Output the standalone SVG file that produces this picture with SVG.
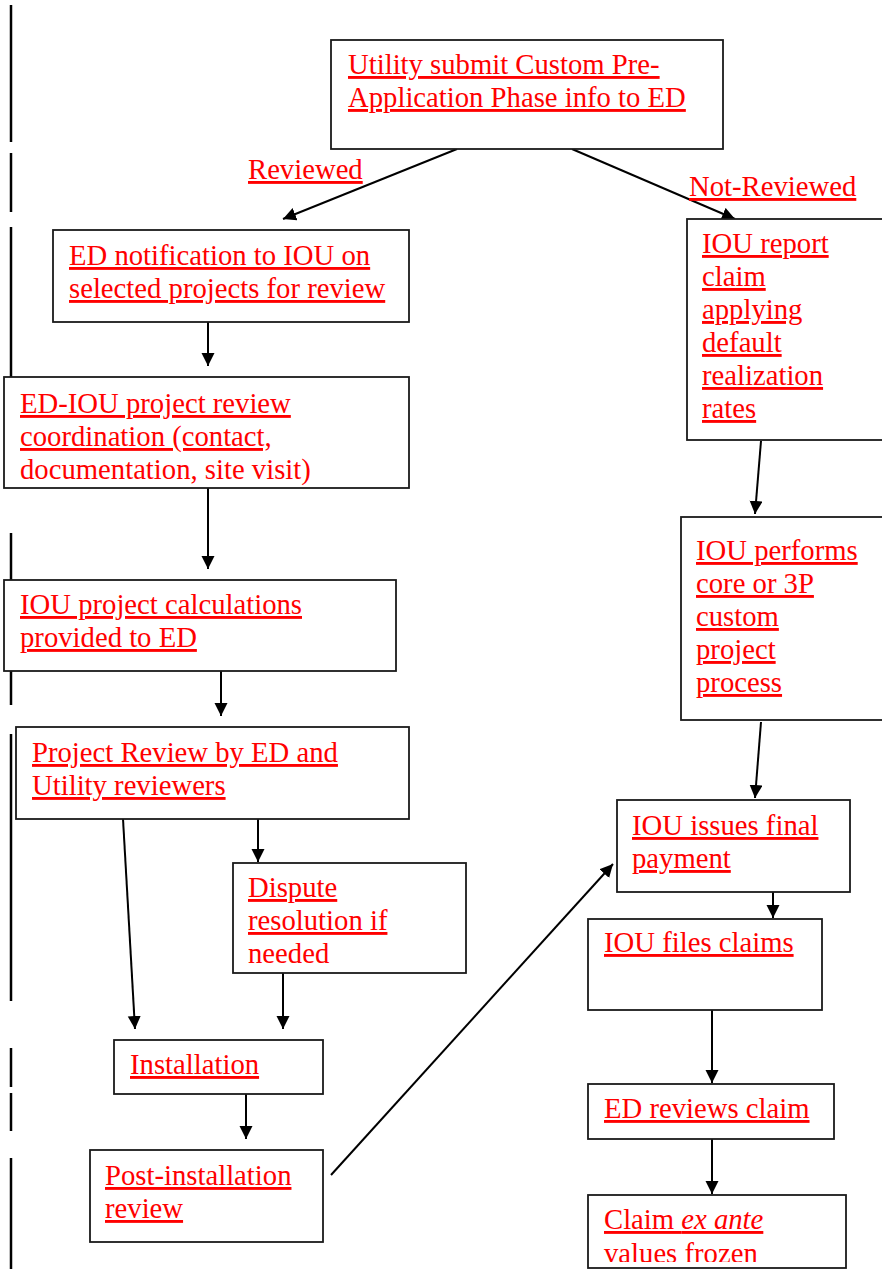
<svg xmlns="http://www.w3.org/2000/svg" width="882" height="1278" viewBox="0 0 882 1278">
<style>
.box{fill:#fff;stroke:#1a1a1a;stroke-width:1.8}
.t{font-family:"Liberation Serif","Times New Roman",serif;font-size:28.7px;fill:#ff0000}
.u{text-decoration:underline;text-decoration-thickness:2px}
.bar{stroke:#000;stroke-width:2.5}
.c{stroke:#000;stroke-width:2;fill:none;marker-end:url(#ah)}
</style>
<defs>
<marker id="ah" markerUnits="userSpaceOnUse" markerWidth="14" markerHeight="14" refX="13" refY="6.5" orient="auto">
<path d="M0,0 L13,6.5 L0,13 z" fill="#000"/>
</marker>
<clipPath id="clipClaim"><rect x="588" y="1195" width="258" height="67"/></clipPath>
</defs>
<rect width="882" height="1278" fill="#fff"/>

<g id="margin-bars">
<line class="bar" x1="11" y1="5" x2="11" y2="142"/>
<line class="bar" x1="11" y1="153" x2="11" y2="212"/>
<line class="bar" x1="11" y1="227" x2="11" y2="377"/>
<line class="bar" x1="11" y1="385" x2="11" y2="485"/>
<line class="bar" x1="11" y1="533" x2="11" y2="705"/>
<line class="bar" x1="11" y1="734" x2="11" y2="1001"/>
<line class="bar" x1="11" y1="1048" x2="11" y2="1087"/>
<line class="bar" x1="11" y1="1093" x2="11" y2="1131"/>
<line class="bar" x1="11" y1="1158" x2="11" y2="1269"/>
</g>

<g id="connectors">
<line class="c" x1="457" y1="149" x2="283" y2="219"/>
<line class="c" x1="572" y1="149" x2="735" y2="219"/>
<line class="c" x1="208" y1="322" x2="208" y2="366"/>
<line class="c" x1="208" y1="488" x2="208" y2="569"/>
<line class="c" x1="221" y1="671" x2="221" y2="716"/>
<line class="c" x1="123" y1="819" x2="135" y2="1029"/>
<line class="c" x1="258" y1="819" x2="258" y2="862"/>
<line class="c" x1="283" y1="973" x2="283" y2="1029"/>
<line class="c" x1="246" y1="1094" x2="246" y2="1139"/>
<line class="c" x1="331" y1="1175" x2="613" y2="864"/>
<line class="c" x1="761" y1="441" x2="755" y2="514"/>
<line class="c" x1="761" y1="722" x2="755" y2="798"/>
<line class="c" x1="773" y1="892" x2="773" y2="918"/>
<line class="c" x1="712" y1="1010" x2="712" y2="1083"/>
<line class="c" x1="712" y1="1139" x2="712" y2="1194"/>
</g>

<g id="label-reviewed"><text class="t u" x="248" y="179">Reviewed</text></g>
<g id="label-not-reviewed"><text class="t u" x="689" y="196">Not-Reviewed</text></g>

<g id="n-utility-submit">
<rect class="box" x="331" y="40" width="392" height="109"/>
<text class="t u" x="348" y="74">Utility submit Custom Pre-</text>
<text class="t u" x="348" y="107">Application Phase info to ED</text>
</g>

<g id="n-ed-notification">
<rect class="box" x="53" y="230" width="356" height="92"/>
<text class="t u" x="69" y="265">ED notification to IOU on</text>
<text class="t u" x="69" y="298">selected projects for review</text>
</g>

<g id="n-ed-iou-coordination">
<rect class="box" x="4" y="377" width="405" height="111"/>
<text class="t u" x="20" y="413">ED-IOU project review</text>
<text class="t u" x="20" y="446">coordination (contact,</text>
<text class="t" x="20" y="479">documentation, site visit)</text>
</g>

<g id="n-iou-calculations">
<rect class="box" x="4" y="580" width="392" height="91"/>
<text class="t u" x="20" y="614">IOU project calculations</text>
<text class="t u" x="20" y="647">provided to ED</text>
</g>

<g id="n-project-review">
<rect class="box" x="16" y="727" width="393" height="92"/>
<text class="t u" x="32" y="762">Project Review by ED and</text>
<text class="t u" x="32" y="795">Utility reviewers</text>
</g>

<g id="n-dispute">
<rect class="box" x="233" y="863" width="233" height="110"/>
<text class="t u" x="248" y="897">Dispute</text>
<text class="t u" x="248" y="930">resolution if</text>
<text class="t" x="248" y="963">needed</text>
</g>

<g id="n-installation">
<rect class="box" x="114" y="1040" width="209" height="54"/>
<text class="t u" x="130" y="1074">Installation</text>
</g>

<g id="n-post-installation">
<rect class="box" x="90" y="1150" width="233" height="92"/>
<text class="t u" x="105" y="1185">Post-installation</text>
<text class="t u" x="105" y="1218">review</text>
</g>

<g id="n-iou-report">
<rect class="box" x="687" y="219" width="210" height="221"/>
<text class="t u" x="702" y="253">IOU report</text>
<text class="t u" x="702" y="286">claim</text>
<text class="t u" x="702" y="319">applying</text>
<text class="t u" x="702" y="352">default</text>
<text class="t u" x="702" y="385">realization</text>
<text class="t u" x="702" y="418">rates</text>
</g>

<g id="n-iou-performs">
<rect class="box" x="681" y="517" width="216" height="203"/>
<text class="t u" x="696" y="560">IOU performs</text>
<text class="t u" x="696" y="593">core or 3P</text>
<text class="t u" x="696" y="626">custom</text>
<text class="t u" x="696" y="659">project</text>
<text class="t u" x="696" y="692">process</text>
</g>

<g id="n-iou-final-payment">
<rect class="box" x="617" y="800" width="233" height="92"/>
<text class="t u" x="632" y="835">IOU issues final</text>
<text class="t u" x="632" y="868">payment</text>
</g>

<g id="n-iou-files-claims">
<rect class="box" x="588" y="919" width="234" height="91"/>
<text class="t u" x="604" y="952">IOU files claims</text>
</g>

<g id="n-ed-reviews-claim">
<rect class="box" x="588" y="1084" width="246" height="55"/>
<text class="t u" x="604" y="1118">ED reviews claim</text>
</g>

<g id="n-claim-frozen">
<rect class="box" x="588" y="1195" width="258" height="73"/>
<g clip-path="url(#clipClaim)">
<text class="t u" x="604" y="1229">Claim <tspan font-style="italic">ex ante</tspan></text>
<text class="t" x="604" y="1263">values frozen</text>
</g>
</g>
</svg>
